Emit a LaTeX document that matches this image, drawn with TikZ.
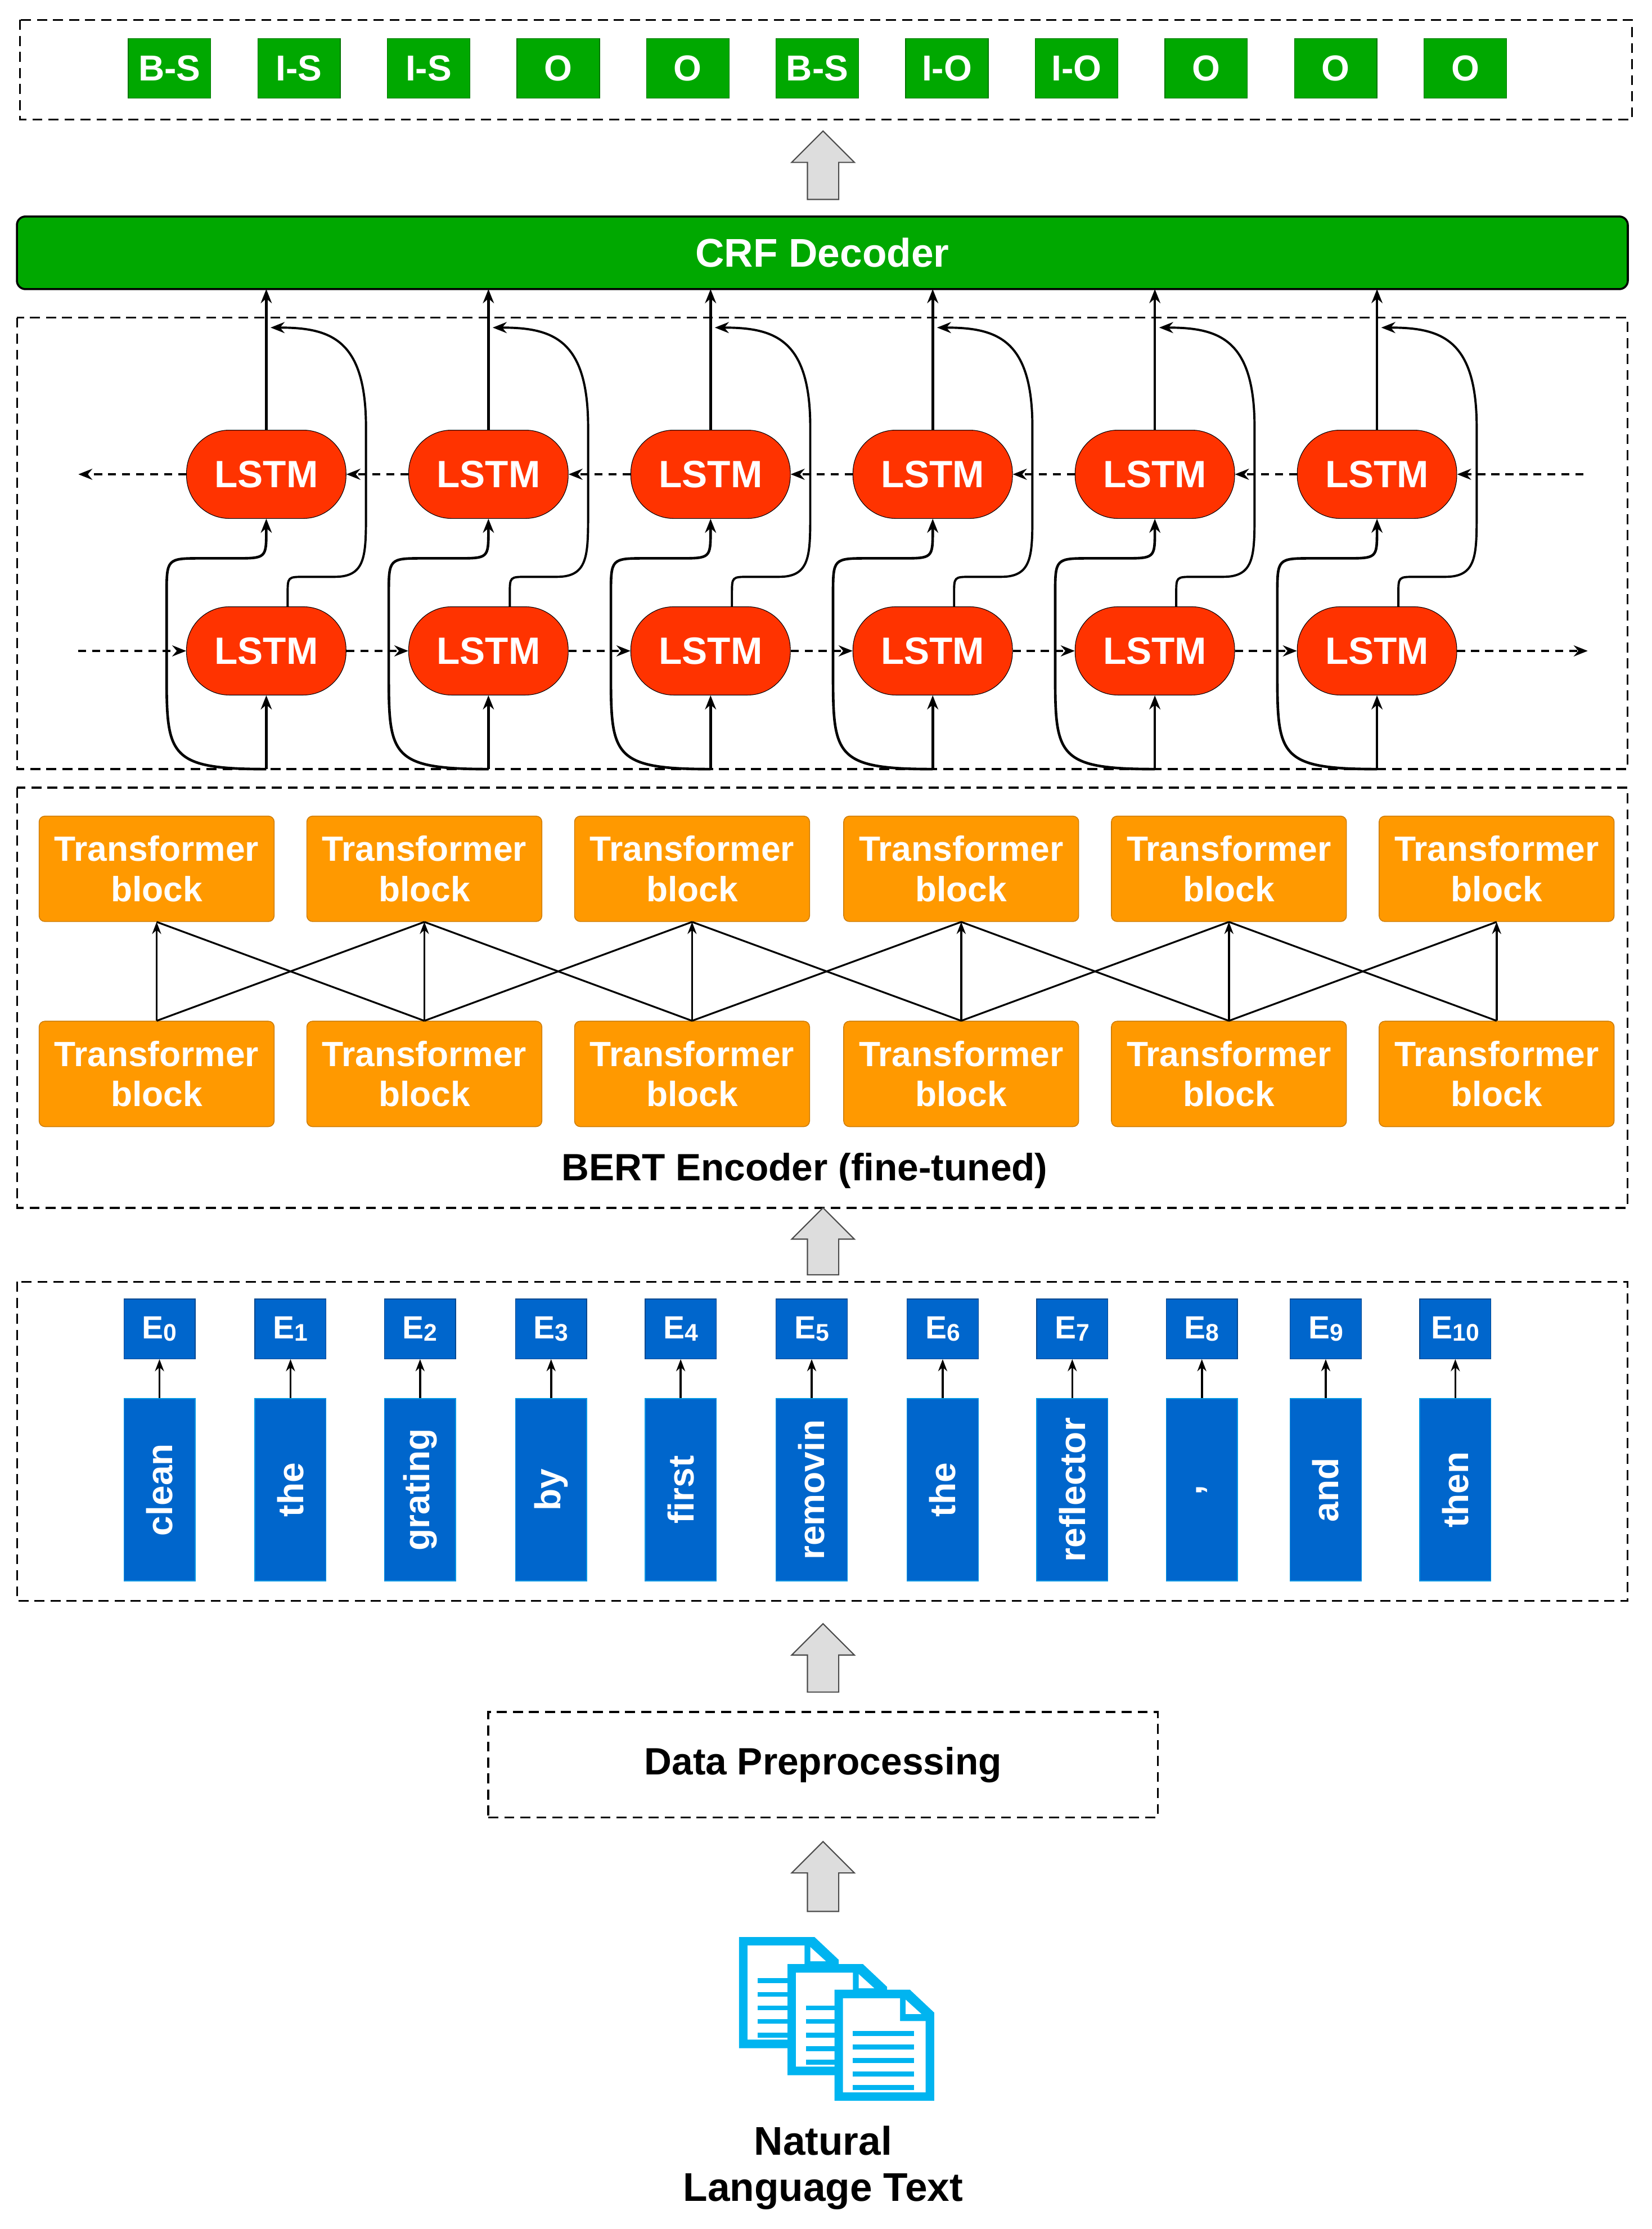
\documentclass[tikz,border=0pt]{standalone}
\usepackage{fontspec}
\setmainfont{Liberation Sans}
\usetikzlibrary{arrows.meta,calc}
\definecolor{grn}{HTML}{00A800}
\definecolor{lred}{HTML}{FF3300}
\definecolor{org}{HTML}{FF9900}
\definecolor{blu}{HTML}{0066CC}
\definecolor{cyan2}{HTML}{00B4F0}
\definecolor{gr}{HTML}{DDDDDD}
\def\U{0.7113pt}
\begin{document}
\begin{tikzpicture}[x=0.025cm,y=-0.025cm,
  dbox/.style={draw,line width=1pt,dash pattern=on 5pt off 3pt},
  lab/.style={fill=grn,draw=grn!70!black,minimum width=58*\U,minimum height=42*\U,inner sep=0,text=white,font=\fontsize{18}{18}\selectfont\bfseries},
  lstm/.style={fill=lred,draw=black,line width=0.3pt,rounded corners=30*\U,minimum width=112*\U,minimum height=62*\U,inner sep=0,text=white,font=\fontsize{19}{19}\selectfont\bfseries},
  tb/.style={fill=org,draw=org!80!black,rounded corners=4*\U,minimum width=165*\U,minimum height=74*\U,inner sep=0,text=white,align=center,font=\fontsize{17.5}{20}\selectfont\bfseries},
  emb/.style={fill=blu,draw=blu!70!black,minimum width=50*\U,minimum height=42*\U,inner sep=0,text=white,font=\fontsize{16}{16}\selectfont\bfseries},
  word/.style={fill=blu,draw=cyan2!60!blu,minimum width=50*\U,minimum height=128*\U,inner sep=0,text=white,font=\fontsize{18}{18}\selectfont\bfseries},
  arr/.style={-{Stealth[length=7pt,width=5.5pt]},line width=1.3pt},
  darr/.style={-{Stealth[length=7pt,width=5.5pt]},line width=1.1pt,dash pattern=on 4pt off 3pt},
  sarr/.style={-{Stealth[length=6pt,width=4.5pt]},line width=1pt},
  garr/.style={fill=gr,draw=black!70,line width=0.6pt}]
\useasboundingbox (0,0) rectangle (1160,1565);
\newcommand{\grayup}[3]{\draw[garr] (#1-11,#2)--(#1-11,#3+22)--(#1-22,#3+22)--(#1,#3)--(#1+22,#3+22)--(#1+11,#3+22)--(#1+11,#2)--cycle;}
% top labels
\draw[dbox] (14,14) rectangle (1146,84);
\foreach \t [count=\i] in {B-S,I-S,I-S,O,O,B-S,I-O,I-O,O,O,O}
  \node[lab] (tag\i) at ({119+(\i-1)*91},48) {\t};
\grayup{578}{140}{92}
\node[fill=grn,draw=black,line width=1pt,rounded corners=6*\U,minimum width=1131*\U,minimum height=51*\U,inner sep=0,text=white,font=\fontsize{20}{20}\selectfont\bfseries] (crf) at (577.5,177.5) {CRF Decoder};
% LSTM
\draw[dbox] (12,223) rectangle (1143,540);
\foreach \i/\x in {1/187,2/343,3/499,4/655,5/811,6/967}{
  \node[lstm] (u\i) at (\x,333) {LSTM};
  \node[lstm] (l\i) at (\x,457) {LSTM};
  \coordinate (b\i) at (\x,540);
  \coordinate (c\i) at (\x+3,230);
  \draw[arr] (u\i.north) -- (\x,203);
  \draw[arr] (b\i) -- (l\i.south);
  \draw[arr] (b\i) .. controls (\x-70,540) and (\x-70,530) .. (\x-70,470) -- (\x-70,418)
     .. controls (\x-70,392) .. (\x-45,392) -- (\x-22,392) .. controls (\x,392) .. (\x,372) -- (u\i.south);
  \draw[arr,line width=1.1pt] (l\i.north -| {(\x+15,0)}) -- (\x+15,417) .. controls (\x+15,405) .. (\x+27,405) -- (\x+48,405)
     .. controls (\x+70,405) and (\x+70,390) .. (\x+70,360) -- (\x+70,300)
     .. controls (\x+70,238) and (\x+45,230) .. (c\i);
}
\coordinate (lL) at (55,457); \coordinate (lR) at (1115,457);
\coordinate (uL) at (55,333); \coordinate (uR) at (1112,333);
\draw[darr] (lL) -- (l1.west);
\foreach \a/\b in {1/2,2/3,3/4,4/5,5/6} \draw[darr] (l\a.east) -- (l\b.west);
\draw[darr] (l6.east) -- (lR);
\draw[darr] (uR) -- (u6.east);
\foreach \a/\b in {6/5,5/4,4/3,3/2,2/1} \draw[darr] (u\a.west) -- (u\b.east);
\draw[darr] (u1.west) -- (uL);
% BERT
\draw[dbox] (12,553) rectangle (1143,848);
\foreach \i/\x in {1/110,2/298,3/486,4/675,5/863,6/1051}{
  \node[tb] (t\i) at (\x,610) {Transformer\\block};
  \node[tb] (s\i) at (\x,754) {Transformer\\block};
}
\foreach \i in {1,...,6} \draw[sarr] (s\i.north) -- (t\i.south);
\foreach \a/\b in {1/2,2/3,3/4,4/5,5/6}{
  \draw[line width=0.9pt] (s\a.north) -- (t\b.south);
  \draw[line width=0.9pt] (s\b.north) -- (t\a.south);
}
\node[font=\fontsize{19}{19}\selectfont\bfseries] (bert) at (565,822) {BERT Encoder (fine-tuned)};
\grayup{578}{895}{848}
% embeddings
\draw[dbox] (12,900) rectangle (1143,1124);
\foreach \w/\x [count=\i from 0] in {clean/112,the/204,grating/295,by/387,first/478,removin/570,the/662,reflector/753,{,}/844,and/931,then/1022}{
  \node[emb] (e\i) at (\x,933) {E\raisebox{-0.15ex}{\fontsize{12}{12}\selectfont\i}};
  \node[word] (w\i) at (\x,1046) {\rotatebox{90}{\w}};
  \draw[sarr] (w\i.north) -- (e\i.south);
}
\grayup{578}{1188}{1140}
\node[dbox,minimum width=470*\U,minimum height=74*\U,font=\fontsize{19}{19}\selectfont\bfseries] (pre) at (578,1239) {Data Preprocessing};
\grayup{578}{1342}{1293}
% documents
\foreach \dx/\dy in {519/1360,553/1379,586/1397}{
  \fill[cyan2] (\dx,\dy) -- (\dx+53,\dy) -- (\dx+70,\dy+16) -- (\dx+70,\dy+78) -- (\dx,\dy+78) -- cycle;
  \fill[white] (\dx+6,\dy+6) -- (\dx+46,\dy+6) -- (\dx+46,\dy+22) -- (\dx+64,\dy+22) -- (\dx+64,\dy+72) -- (\dx+6,\dy+72) -- cycle;
  \fill[white] (\dx+50,\dy+7) -- (\dx+61,\dy+17) -- (\dx+50,\dy+17) -- cycle;
  \foreach \k in {0,...,4} \fill[cyan2] (\dx+13,\dy+29+\k*9.5) rectangle (\dx+56,\dy+32.5+\k*9.5);
}
\node[align=center,font=\fontsize{20}{23}\selectfont\bfseries] (nlt) at (578,1522) {Natural\\Language Text};
\end{tikzpicture}
\end{document}
